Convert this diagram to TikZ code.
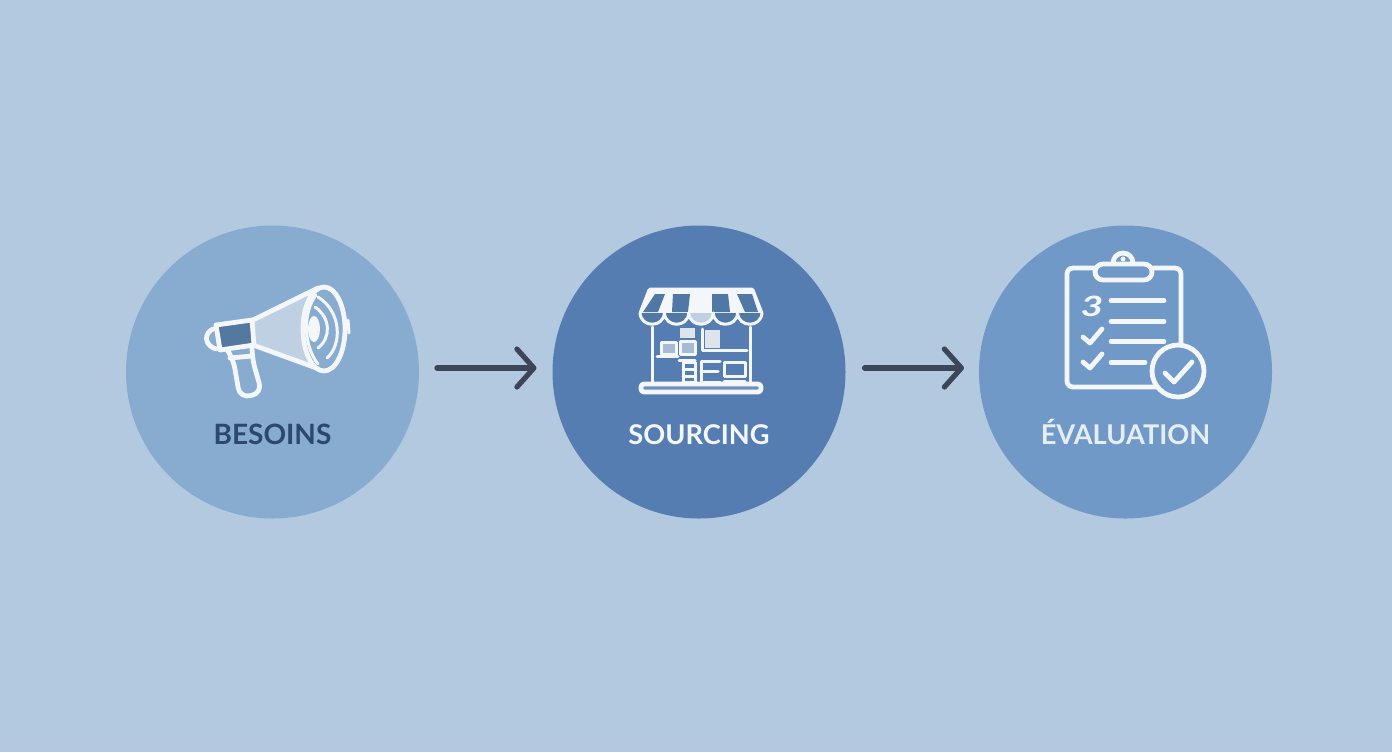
\documentclass[tikz,border=0pt]{standalone}
\usepackage{fontspec}
\setmainfont{Lato}
\usetikzlibrary{positioning, arrows.meta}

\definecolor{bgblue}{RGB}{179,201,223}
\definecolor{paleblue}{RGB}{136,171,208}
\definecolor{deepblue}{RGB}{86,125,178}
\definecolor{midblue}{RGB}{112,153,199}
\definecolor{inkblue}{RGB}{44,72,110}
\definecolor{arrowink}{RGB}{61,70,89}
\definecolor{iconwhite}{RGB}{243,247,250}
\definecolor{stripeblue}{RGB}{80,120,165}
\definecolor{conegrey}{RGB}{190,208,226}
\definecolor{darkband}{RGB}{84,121,160}
\definecolor{boxgrey}{RGB}{222,228,236}

\tikzset{
  stage/.style={circle, minimum size=146.5pt, inner sep=0pt, outer sep=0pt},
  caption/.style={font=\bfseries\fontsize{13.6}{16}\selectfont, inner sep=0pt, text height=10pt, text depth=0pt},
  icon/.style={draw=iconwhite, line width=2.4pt, line join=round, line cap=round},
  thin icon/.style={draw=iconwhite, line width=1.5pt, line join=round, line cap=round},
  flow/.style={draw=arrowink, line width=2.6pt, line cap=round,
    -{Straight Barb[length=8.5pt, width=19pt, round]}}
}

\begin{document}
\begin{tikzpicture}[x=0.5pt, y=-0.5pt, node distance = 213.25pt]
    \fill[bgblue] (0,0) rectangle (1392,752);
    \useasboundingbox (0,0) rectangle (1392,752);

    \node[stage, fill=paleblue] (besoins) at (272.5,372) {};
    \node[stage, fill=deepblue, right of=besoins] (sourcing) {};
    \node[stage, fill=midblue, right of=sourcing] (evaluation) {};

    \node[caption, text=inkblue, below of=besoins, node distance=31pt] (l1) {\fontsize{14}{16}\selectfont BESOINS};
    \node[caption, text=iconwhite, below of=sourcing, node distance=31pt] (l2) {SOURCING};
    \node[caption, text=iconwhite!90!midblue, below of=evaluation, node distance=31pt] (l3) {ÉVALUATION};

    \draw[flow, shorten <=9pt, shorten >=8pt] ([yshift=2pt]besoins.east) -- ([yshift=2pt]sourcing.west);
    \draw[flow, shorten <=9.5pt, shorten >=7.5pt] ([yshift=2pt]sourcing.east) -- ([yshift=2pt]evaluation.west);

    % megaphone
    \fill[conegrey] (253,320) -- (318,288) -- (322,370) -- (253,345) -- cycle;
    \draw[icon, fill=darkband] (216,325) -- (252,320) -- (254,345) -- (220,350) -- cycle;
    \draw[icon] (253,320) -- (318,288);
    \draw[icon] (253,345) -- (322,370);
    \draw[icon, rounded corners=3pt] (213,329) -- (206,333) -- (207,345) -- (216,349);
    \draw[icon, rounded corners=5pt] (228,351) -- (233,358) -- (240,398) -- (262,393) -- (252,358) -- (252,347);
    \draw[icon] (230,358) -- (252,356);
    \draw[icon, fill=paleblue] (324,329) ellipse [x radius=21, y radius=42];
    \fill[iconwhite] (314,329) ellipse [x radius=6, y radius=13];
    \draw[thin icon] (318,297) .. controls (342,312) and (342,345) .. (327,358);
    \draw[thin icon] (315,307) .. controls (331,318) and (331,338) .. (318,348);
    \draw[thin icon] (316,295) .. controls (303,312) and (303,345) .. (318,364);
    \draw[thin icon] (348,320) -- (349,333);

    % shop
    \draw[icon, fill=iconwhite] (650,290) -- (752,290) -- (761,313) -- (641,313) -- cycle;
    \foreach \a/\b/\c/\d in {655/665/658/643, 673/690/688/672, 712/728/730/712, 737/752/758/745}
      \fill[stripeblue] (\a,294) -- (\b,294) -- (\c,312) -- (\d,312) -- cycle;
    \foreach \x/\tint in {640/stripeblue, 664.4/stripeblue, 688.8/conegrey, 713.2/stripeblue, 737.6/stripeblue} {
      \draw[thin icon, fill=\tint] (\x,313) .. controls (\x+1,328) and (\x+23.4,328) .. (\x+24.4,313);
    }
    \draw[thin icon] (652,327) -- (652,383);
    \draw[thin icon] (750,327) -- (750,383);
    \draw[thin icon] (702,329) -- (702,350) -- (747,350);
    \fill[boxgrey] (705,330) rectangle (720,348);
    \fill[boxgrey] (680,328) rectangle (695,338);
    \draw[thin icon, fill=boxgrey!60!deepblue] (680,341) rectangle (695,354);
    \draw[thin icon, fill=boxgrey!60!deepblue] (661,342) rectangle (676,354);
    \draw[thin icon] (657,356) -- (678,356);
    \draw[thin icon] (679,360) -- (695,360);
    \draw[thin icon] (683,362) rectangle (695,382);
    \draw[thin icon] (683,369) -- (695,369);
    \draw[thin icon] (683,376) -- (695,376);
    \draw[thin icon] (720,361) -- (701,361) -- (701,382) -- (720,382);
    \draw[thin icon] (701,371) -- (718,371);
    \draw[thin icon] (724,362) rectangle (745,376);
    \draw[thin icon] (724,381) -- (745,381);
    \draw[icon, fill=deepblue!85!white, rounded corners=1.5pt] (641,384) rectangle (761,392);

    % clipboard
    \draw[icon, rounded corners=3pt] (1094,268) -- (1067,268) -- (1067,387) -- (1181,387) -- (1181,268) -- (1153,268);
    \draw[icon, fill=midblue] (1113,263) arc[start angle=180, end angle=360, radius=10];
    \draw[icon, fill=midblue, rounded corners=4pt] (1095,264) rectangle (1152,280);
    \fill[iconwhite] (1123,259) circle [radius=2.5];
    \foreach \y/\xend in {300.7/1164, 321.3/1164, 341.3/1164, 362.3/1145}
      \draw[icon] (1111,\y) -- (\xend,\y);
    \node[text=iconwhite, inner sep=0pt, font=\bfseries\itshape\fontsize{14}{15}\selectfont] (mark) at (1092,306) {\scalebox{1.4}[1]{3}};
    \draw[icon] (1083,337) -- (1090,343) -- (1102,329);
    \draw[icon] (1083,362) -- (1090,368) -- (1102,354);
    \draw[icon, fill=midblue] (1178,371) circle [radius=26];
    \draw[icon] (1165,373) -- (1174,382) -- (1192,362);
\end{tikzpicture}
\end{document}
